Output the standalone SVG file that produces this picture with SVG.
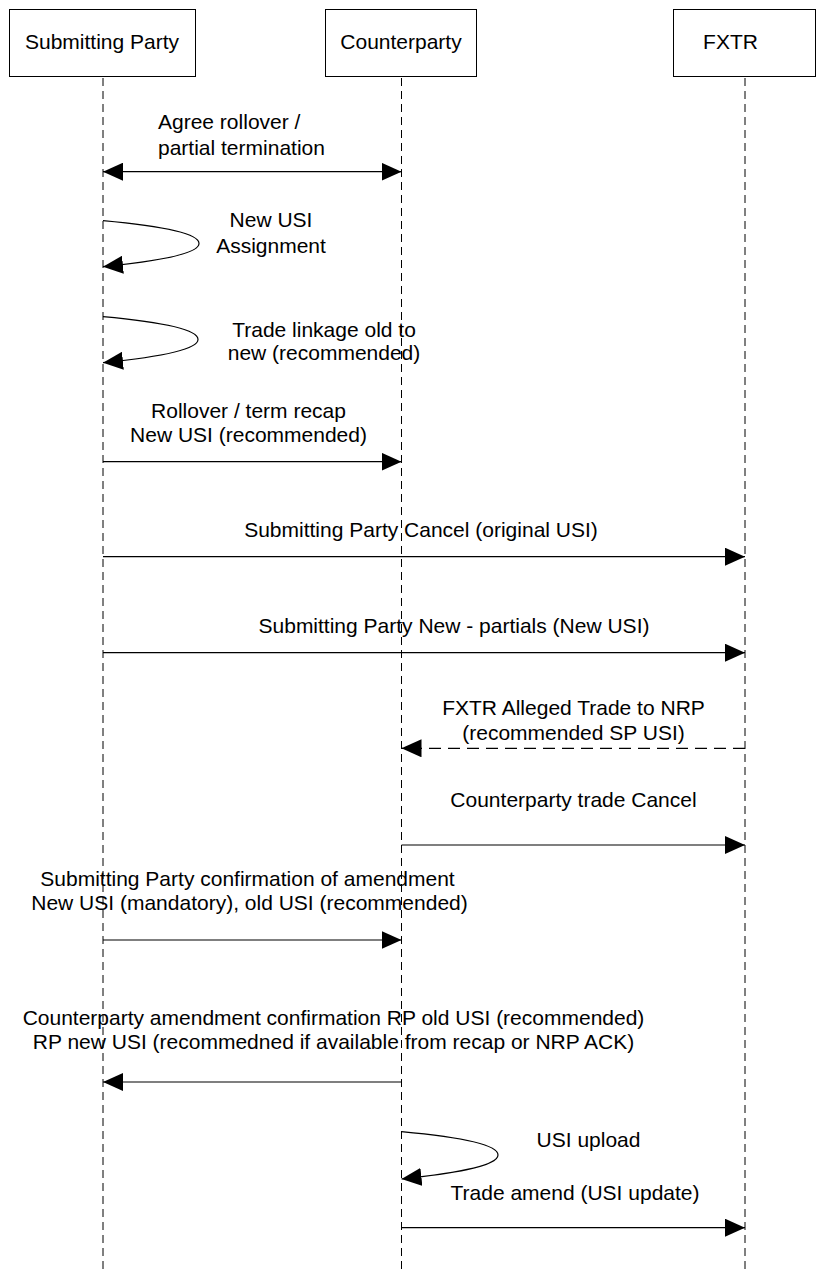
<svg xmlns="http://www.w3.org/2000/svg" width="817" height="1273" viewBox="0 0 817 1273">
  <style>
    .box { fill: #ffffff; stroke: #000000; stroke-width: 1; }
    .life { fill: none; stroke: #000000; stroke-width: 1; stroke-dasharray: 8 5; }
    .msg { fill: none; stroke: #000000; stroke-width: 1.2; marker-end: url(#head); }
    .both { marker-start: url(#head); }
    .dash { stroke-dasharray: 12 7; }
    text { font-family: "Liberation Sans", Arial, sans-serif; font-size: 21px; fill: #000000; }
    .c { text-anchor: middle; }
  </style>
  <defs>
    <marker id="head" viewBox="0 0 20 18" refX="20" refY="9" markerWidth="20" markerHeight="18" markerUnits="userSpaceOnUse" orient="auto-start-reverse">
      <path d="M0,0 L20,9 L0,18 Z" fill="#000000"/>
    </marker>
  </defs>

  <!-- lifelines -->
  <g id="lifelines">
    <line class="life" x1="103" y1="78" x2="103" y2="1273"/>
    <line class="life" x1="401.5" y1="78" x2="401.5" y2="1273"/>
    <line class="life" x1="745" y1="78" x2="745" y2="1273"/>
  </g>

  <!-- participants -->
  <g id="submitting-party">
    <rect class="box" x="9.5" y="9.5" width="186" height="67"/>
    <text class="c" x="102" y="49">Submitting Party</text>
  </g>
  <g id="counterparty">
    <rect class="box" x="325.5" y="9.5" width="151" height="67"/>
    <text class="c" x="401" y="49">Counterparty</text>
  </g>
  <g id="fxtr">
    <rect class="box" x="673.5" y="9.5" width="142" height="67"/>
    <text class="c" x="730.5" y="49">FXTR</text>
  </g>

  <!-- messages -->
  <g id="connectors">
    <line class="msg both" x1="103" y1="171.7" x2="401.5" y2="171.7"/>
    <path class="msg" d="M103,220.7 C150,225 199,232 199,243.5 C199,255 150,262 103,266.7"/>
    <path class="msg" d="M103,316.7 C150,321 198,328 198,339.5 C198,351 150,358 103,362.7"/>
    <line class="msg" x1="103" y1="461.7" x2="401.5" y2="461.7"/>
    <line class="msg" x1="103" y1="556.7" x2="745" y2="556.7"/>
    <line class="msg" x1="103" y1="652.7" x2="745" y2="652.7"/>
    <line class="msg dash" x1="745" y1="748.3" x2="401.5" y2="748.3"/>
    <line class="msg" x1="401.5" y1="845" x2="745" y2="845"/>
    <line class="msg" x1="103" y1="940" x2="401.5" y2="940"/>
    <line class="msg" x1="401.5" y1="1082" x2="103" y2="1082"/>
    <path class="msg" d="M401.5,1131.7 C448,1136 498,1143 498,1155 C498,1167 448,1174 401.5,1179"/>
    <line class="msg" x1="401.5" y1="1227.7" x2="745" y2="1227.7"/>
  </g>

  <!-- message labels -->
  <g id="labels">
    <text x="158" y="129.3">Agree rollover /</text>
    <text x="158" y="155">partial termination</text>
    <text class="c" x="271" y="226.7">New USI</text>
    <text class="c" x="271" y="252.7">Assignment</text>
    <text class="c" x="324" y="337">Trade linkage old to</text>
    <text class="c" x="324" y="360">new (recommended)</text>
    <text class="c" x="248.5" y="418.3">Rollover / term recap</text>
    <text class="c" x="248.5" y="441.7">New USI (recommended)</text>
    <text class="c" x="421" y="536.7">Submitting Party Cancel (original USI)</text>
    <text class="c" x="454" y="633.3">Submitting Party New - partials (New USI)</text>
    <text class="c" x="573.5" y="715">FXTR Alleged Trade to NRP</text>
    <text class="c" x="573.5" y="739.5">(recommended SP USI)</text>
    <text class="c" x="573.5" y="807">Counterparty trade Cancel</text>
    <text class="c" x="247.5" y="886">Submitting Party confirmation of amendment</text>
    <text class="c" x="249.5" y="910">New USI (mandatory), old USI (recommended)</text>
    <text class="c" x="333.5" y="1025">Counterparty amendment confirmation RP old USI (recommended)</text>
    <text class="c" x="333.5" y="1049">RP new USI (recommedned if available from recap or NRP ACK)</text>
    <text class="c" x="588.5" y="1146.7">USI upload</text>
    <text class="c" x="575" y="1200">Trade amend (USI update)</text>
  </g>
</svg>
